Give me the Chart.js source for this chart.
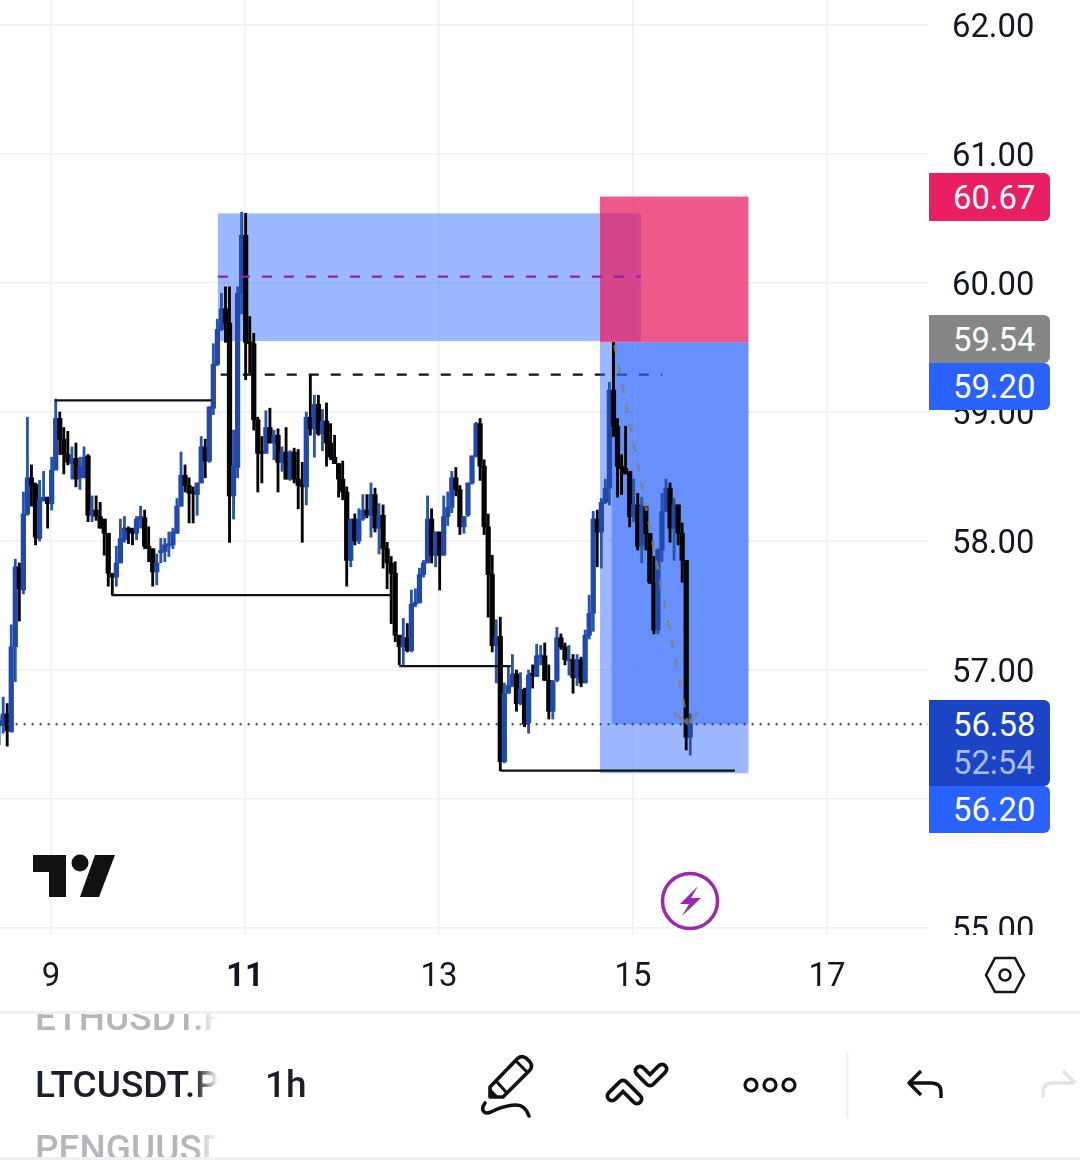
<!DOCTYPE html>
<html lang="en">
<head>
  <meta charset="UTF-8" />
  <title>LTCUSDT.P 1h</title>
  <script src="https://cdn.jsdelivr.net/npm/chart.js"></script>
  <style>
    * { margin: 0; padding: 0; box-sizing: border-box; }
    body { width: 1080px; height: 1160px; background: #fff; overflow: hidden; font-family: Roboto, sans-serif; }
    #wrap { position: relative; width: 1080px; height: 1160px; }
    canvas { position: absolute; left: 0; top: 0; }
    svg { position: absolute; left: 0; top: 0; }
    .badge {
      position: absolute; left: 929px; width: 121px; padding-left: 24px;
      color: #fff; font-size: 32.8px; line-height: 38px;
      border-radius: 0 6px 6px 0;
    }
    .sep { position: absolute; left: 0; width: 1080px; background: #f0f0f0; }
    .sym {
      position: absolute; left: 35px; width: 183px; overflow: hidden; white-space: nowrap;
      font-size: 37px; font-weight: 500;
      -webkit-mask-image: linear-gradient(to right, #000 88%, transparent 100%);
    }
  </style>
</head>
<body>
<div id="wrap">
  <canvas id="chart" width="1080" height="1160"></canvas>

  <div class="badge" style="top:173px;height:48px;line-height:50px;background:#e91e63">60.67</div>
  <div class="badge" style="top:315px;height:48px;line-height:50px;background:#868686">59.54</div>
  <div class="badge" style="top:363px;height:47px;line-height:49px;background:#2962ff">59.20</div>
  <div class="badge" style="top:700px;height:86px;padding-top:6px;background:#1b45c4">56.58<br><span style="color:#a9bdf2">52:54</span></div>
  <div class="badge" style="top:786px;height:47px;line-height:49px;background:#2962ff">56.20</div>

  <div class="sep" style="top:1011px;height:3px"></div>
  <div class="sep" style="top:1157px;height:3px"></div>

  <div class="sym" style="top:1014px;height:19px;color:#b4b6ba"><div style="margin-top:-17px;line-height:42px">ETHUSDT.P</div></div>
  <div class="sym" style="top:1063px;height:44px;line-height:44px;color:#1c1f28">LTCUSDT.P</div>
  <div class="sym" style="top:1133px;height:24px;color:#b4b6ba"><div style="line-height:42px;margin-top:-5px">PENGUUSDT.P</div></div>
  <div style="position:absolute;left:265px;top:1063px;font-size:37px;font-weight:500;line-height:44px;color:#1c1f28">1h</div>

  <svg width="1080" height="1160" viewBox="0 0 1080 1160" fill="none">
    <!-- tradingview mark -->
    <path d="M33 855H66V897H49V872H33Z" fill="#111"/>
    <circle cx="80" cy="863" r="8.5" fill="#111"/>
    <path d="M95 855H115L99 897H80Z" fill="#111"/>
    <!-- bolt -->
    <circle cx="690" cy="901" r="27.5" stroke="#9c27b0" stroke-width="3.5"/>
    <path d="M698 886L680 904H689L682 916L701 898H691Z" fill="#9c27b0"/>
    <!-- settings -->
    <path d="M995 958H1015L1024 975L1015 992H995L986 975Z" stroke="#131722" stroke-width="2.6" stroke-linejoin="round"/>
    <circle cx="1005" cy="975" r="5.5" stroke="#131722" stroke-width="2.6"/>
    <!-- pencil -->
    <path d="M490 1087L517 1059Q521 1055 526 1058L530 1062Q533 1066 530 1070L503 1097H490Z" stroke="#111" stroke-width="3.6" stroke-linejoin="round"/>
    <path d="M516 1061L528 1073M497 1082L506 1092" stroke="#111" stroke-width="3"/>
    <path d="M490 1097L490 1088L499 1097Z" fill="#111"/>
    <path d="M485 1103C480 1110 484 1115 491 1112C499 1108 508 1105 516 1105C524 1105 527 1110 529 1116" stroke="#111" stroke-width="3.6" stroke-linecap="round"/>
    <!-- trend tool -->
    <path d="M612 1096L623 1085L637 1099M640 1071L650 1081L662 1069" stroke="#111" stroke-width="13" stroke-linejoin="round" stroke-linecap="round"/>
    <path d="M612 1096L623 1085L637 1099M640 1071L650 1081L662 1069" stroke="#fff" stroke-width="5.4" stroke-linejoin="round" stroke-linecap="round"/>
    <!-- dots -->
    <circle cx="751" cy="1085" r="6" stroke="#111" stroke-width="3.2"/>
    <circle cx="770" cy="1085" r="6" stroke="#111" stroke-width="3.2"/>
    <circle cx="789" cy="1085" r="6" stroke="#111" stroke-width="3.2"/>
    <path d="M847.5 1052V1118" stroke="#efefef" stroke-width="2"/>
    <!-- undo / redo -->
    <path d="M941 1098V1092Q941 1083 931 1083H910M921 1071L909 1083L921 1095" stroke="#111" stroke-width="3.4" stroke-linejoin="round"/>
    <path d="M1043 1098V1092Q1043 1083 1053 1083H1074M1063 1071L1075 1083" stroke="#e4e4e4" stroke-width="3.4" stroke-linejoin="round"/>
  </svg>
</div>

<script>
  // hourly candles
  const firstCandleDay = 8.465;

  const opens = [
    56.57,56.57,56.66,56.52,57.18,57.80,57.62,58.21,58.49,58.44,
    58.02,58.31,58.34,58.29,58.55,58.95,58.79,58.67,58.60,58.64,
    58.49,58.49,58.66,58.20,58.24,58.19,58.17,58.06,57.75,57.72,
    57.83,58.01,58.10,58.09,58.06,58.16,58.18,57.96,57.94,57.76,
    57.91,57.92,57.96,57.97,58.06,58.27,58.51,58.43,58.38,58.36,
    58.45,58.73,58.62,59.03,59.37,59.64,59.80,59.69,58.35,58.57,
    59.92,60.37,59.54,59.53,58.94,58.69,58.68,58.88,58.76,58.82,
    58.61,58.69,58.48,58.69,58.48,58.43,58.42,58.96,58.87,59.06,
    58.83,58.93,58.76,58.65,58.60,58.48,58.38,57.85,58.17,58.00,
    58.17,58.24,58.20,58.36,58.10,58.20,57.94,57.83,57.75,57.27,
    57.18,57.25,57.15,57.51,57.52,57.74,57.83,58.17,57.89,58.07,
    57.89,58.19,58.26,58.49,58.40,58.11,58.20,58.45,58.66,58.91,
    58.58,58.11,57.74,57.19,57.26,56.29,56.82,56.88,56.97,56.74,
    56.85,56.59,56.97,56.95,57.10,57.11,56.92,56.68,56.92,57.25,
    57.18,57.07,57.08,56.94,57.08,56.90,57.27,57.44,58.17,58.07,
    58.30,58.41,59.17,58.89,58.58,58.56,58.54,58.19,58.28,57.96,
    58.27,58.06,57.68,57.31,57.93,58.23,58.41,58.10,58.28,58.06,
    57.85,56.48
  ];
  const highs = [
    56.64,56.79,56.74,57.35,57.86,57.83,58.38,58.96,58.59,58.45,
    58.47,58.54,58.34,58.65,59.10,59.00,58.88,58.85,58.73,58.76,
    58.65,58.73,58.67,58.35,58.35,58.30,58.17,58.06,57.75,57.96,
    58.17,58.19,58.11,58.10,58.19,58.27,58.24,58.11,57.94,57.90,
    58.02,58.02,58.07,58.10,58.33,58.69,58.59,58.49,58.42,58.45,
    58.81,58.79,59.04,59.53,59.72,59.92,59.97,59.97,58.86,59.97,
    60.55,60.54,59.74,59.61,58.96,58.81,59.01,59.03,58.86,58.87,
    58.73,58.88,58.70,58.72,58.71,58.61,59.00,59.29,59.13,59.13,
    59.02,59.07,58.91,58.82,58.60,58.62,58.42,58.17,58.21,58.25,
    58.36,58.36,58.45,58.41,58.29,58.28,57.99,57.88,57.84,57.27,
    57.40,57.36,57.62,57.63,57.79,57.85,58.35,58.25,58.07,58.07,
    58.35,58.38,58.54,58.57,58.43,58.19,58.45,58.66,58.92,58.95,
    58.63,58.21,57.89,57.39,57.41,56.90,57.03,57.12,57.00,56.98,
    56.86,57.00,57.04,57.20,57.19,57.21,57.04,56.92,57.33,57.28,
    57.21,57.19,57.12,57.12,57.10,57.31,57.58,58.23,58.24,58.33,
    58.48,59.23,59.54,58.95,58.67,58.89,58.54,58.48,58.37,58.34,
    58.27,58.06,57.88,57.94,58.37,58.48,58.45,58.33,58.28,58.14,
    57.85,56.66
  ];
  const lows = [
    56.42,56.51,56.41,56.52,56.91,57.38,57.59,58.20,58.27,57.97,
    58.00,58.31,58.10,58.24,58.55,58.67,58.52,58.59,58.48,58.42,
    58.40,58.49,58.15,58.15,58.16,58.10,57.89,57.65,57.58,57.65,
    57.83,57.99,57.98,57.97,58.01,58.10,57.94,57.84,57.65,57.66,
    57.83,57.84,57.88,57.94,58.06,58.27,58.38,58.14,58.14,58.20,
    58.45,58.49,58.61,58.98,59.36,59.63,59.54,57.99,58.17,58.49,
    59.76,59.25,59.30,58.86,58.38,58.45,58.68,58.76,58.63,58.38,
    58.54,58.48,58.47,58.45,58.25,57.99,58.28,58.82,58.65,58.82,
    58.70,58.58,58.63,58.60,58.34,58.32,57.65,57.80,57.97,57.98,
    58.16,58.18,58.03,58.07,57.90,57.79,57.63,57.36,57.22,57.04,
    57.04,57.14,57.14,57.49,57.52,57.72,57.83,57.83,57.80,57.62,
    57.89,58.12,58.22,58.35,58.05,58.06,58.19,58.44,58.65,58.47,
    58.05,57.41,57.14,56.90,56.22,56.28,56.82,56.87,56.68,56.73,
    56.56,56.51,56.86,56.95,57.04,56.92,56.62,56.62,56.91,57.16,
    57.04,56.96,56.82,56.88,56.87,56.90,57.24,57.30,57.80,57.79,
    58.29,58.28,58.81,58.34,58.36,58.52,58.11,58.15,57.93,57.83,
    57.93,57.67,57.28,57.28,57.84,58.23,57.99,57.85,57.97,57.68,
    56.38,56.34
  ];
  const closes = [
    56.61,56.66,56.53,57.18,57.80,57.63,58.21,58.49,58.43,58.03,
    58.32,58.34,58.29,58.55,58.95,58.79,58.67,58.61,58.64,58.48,
    58.58,58.65,58.20,58.24,58.19,58.10,58.06,57.75,57.72,57.83,
    58.02,58.10,58.08,58.06,58.17,58.19,57.96,57.94,57.76,57.83,
    57.92,57.97,57.98,58.07,58.27,58.51,58.43,58.37,58.37,58.45,
    58.73,58.62,59.04,59.37,59.64,59.80,59.69,58.35,58.58,59.92,
    60.37,59.54,59.53,58.94,58.68,58.68,58.88,58.76,58.82,58.61,
    58.69,58.48,58.69,58.48,58.43,58.42,58.96,58.87,59.06,58.83,
    58.93,58.76,58.65,58.60,58.48,58.38,57.85,58.17,58.00,58.17,
    58.24,58.20,58.36,58.10,58.20,57.94,57.83,57.75,57.27,57.18,
    57.25,57.15,57.51,57.52,57.74,57.83,58.17,57.89,58.07,57.89,
    58.19,58.26,58.49,58.40,58.11,58.19,58.45,58.66,58.91,58.58,
    58.11,57.74,57.19,57.26,56.29,56.82,56.88,56.97,56.74,56.85,
    56.58,56.96,56.96,57.11,57.11,56.92,56.68,56.91,57.25,57.18,
    57.08,57.08,56.94,57.08,56.90,57.27,57.44,58.17,58.07,58.30,
    58.41,59.17,58.89,58.58,58.56,58.52,58.19,58.28,57.96,58.27,
    58.06,57.68,57.31,57.93,58.23,58.41,58.10,58.28,58.06,57.85,
    56.48,56.58
  ];

  const yTicks = [62, 61, 60, 59, 58, 57, 56, 55];
  const xTicks = [9, 11, 13, 15, 17];
  const boldDay = 11;

  // drawings, as [day, price] pairs
  const highLevel = [[9.04, 59.09], [10.65, 59.09]];
  const lowLevel = [[9.63, 57.58], [12.52, 57.58]];
  const midLevel = [[12.59, 57.03], [13.74, 57.03]];
  const targetLevel = [[13.63, 56.22], [16.05, 56.22]];
  const dashedHigh = [[10.75, 59.29], [15.30, 59.29]];
  const purpleMid = [[10.72, 60.05], [15.08, 60.05]];
  const priceLine = [[8.47, 56.58], [18.04, 56.58]];
  const arrowShaft = [[14.81, 59.52], [15.56, 56.6]];
  const arrowHead = [[15.42, 56.67], [15.57, 56.58], [15.66, 56.67]];

  // boxes: day from, day to, price top, price bottom
  const zoneBox = [10.72, 15.08, 60.54, 59.55];
  const stopBox = [14.66, 16.19, 60.67, 59.54];
  const targetBox = [14.66, 16.19, 59.54, 56.20];
  const activeBox = [14.78, 16.19, 59.54, 56.58];

  const bull = "#2149ad";
  const bullWick = "#2b55a8";
  const bear = "#050505";

  const days = closes.map((c, i) => firstCandleDay + i / 24);
  const isUp = closes.map((c, i) => c >= opens[i]);

  function toPoints(pairs) {
    return pairs.map(p => ({ x: p[0], y: p[1] }));
  }

  function lineSet(pairs, color, width, dash, order) {
    return {
      type: "line",
      data: toPoints(pairs),
      borderColor: color,
      borderWidth: width,
      borderDash: dash,
      pointRadius: 0,
      tension: 0,
      order: order
    };
  }

  function fillBox(chart, box, color) {
    const { x, y } = chart.scales;
    const left = x.getPixelForValue(box[0]);
    const right = x.getPixelForValue(box[1]);
    const top = y.getPixelForValue(box[2]);
    const bottom = y.getPixelForValue(box[3]);
    chart.ctx.fillStyle = color;
    chart.ctx.fillRect(left, top, right - left, bottom - top);
  }

  // boxes sit under the candles but over the dashed level
  const boxesPlugin = {
    id: "boxes",
    beforeDatasetsDraw(chart) {
      // cuts the 55.00 label off like the price pane does
      chart.ctx.fillStyle = "#fff";
      chart.ctx.fillRect(928, 935, 152, 225);
    },
    beforeDatasetDraw(chart, args) {
      if (chart.data.datasets[args.index].label !== "wicks") return;
      fillBox(chart, zoneBox, "rgba(41,98,255,0.45)");
      fillBox(chart, stopBox, "rgba(233,30,99,0.74)");
      fillBox(chart, targetBox, "rgba(41,98,255,0.45)");
      fillBox(chart, activeBox, "rgba(41,98,255,0.45)");
    }
  };

  new Chart(document.getElementById("chart"), {
    type: "bar",
    data: {
      datasets: [
        lineSet(dashedHigh, "#111", 2.4, [10, 12], 20),
        {
          label: "wicks",
          data: days.map((d, i) => ({ x: d, y: [lows[i], highs[i]] })),
          backgroundColor: isUp.map(u => u ? bullWick : bear),
          barThickness: 2.2,
          grouped: false,
          order: 5
        },
        {
          label: "bodies",
          data: days.map((d, i) => ({ x: d, y: [opens[i], closes[i]] })),
          backgroundColor: isUp.map(u => u ? bull : bear),
          barThickness: 4.6,
          minBarLength: 2,
          grouped: false,
          order: 4
        },
        lineSet(highLevel, "#111", 2.2, [], 3),
        lineSet(lowLevel, "#111", 2.2, [], 3),
        lineSet(midLevel, "#111", 2.2, [], 3),
        lineSet(targetLevel, "#111", 2.2, [], 3),
        lineSet(purpleMid, "#8e24aa", 2.4, [10, 12], 3),
        lineSet(priceLine, "#2a3a66", 2, [2, 6], 3),
        lineSet(arrowShaft, "rgba(130,130,130,0.75)", 3, [9, 11], 3),
        lineSet(arrowHead, "rgba(130,130,130,0.75)", 3, [], 3)
      ]
    },
    options: {
      responsive: false,
      animation: false,
      layout: { padding: 0 },
      plugins: { legend: { display: false }, tooltip: { enabled: false } },
      scales: {
        x: {
          type: "linear",
          offset: false,
          min: 8.474,
          max: 18.041,
          afterBuildTicks(s) { s.ticks = xTicks.map(v => ({ value: v })); },
          afterFit(s) { s.height = 225; s.paddingLeft = 0; s.paddingRight = 0; },
          grid: { offset: false, color: "#eff1f4", lineWidth: 1.5, drawTicks: false },
          border: { display: false },
          ticks: {
            padding: 23,
            maxRotation: 0,
            autoSkip: false,
            color: "#131722",
            font: ctx => ({
              family: "Roboto",
              size: 32.8,
              weight: ctx.tick && ctx.tick.value === boldDay ? "bold" : "normal"
            }),
            callback: v => String(v)
          }
        },
        y: {
          position: "right",
          min: 54.946,
          max: 62.194,
          afterBuildTicks(s) { s.ticks = yTicks.map(v => ({ value: v })); },
          afterFit(s) { s.width = 152; s.paddingTop = 0; s.paddingBottom = 0; },
          grid: { color: "#eff1f4", lineWidth: 1.5, drawTicks: false },
          border: { display: false },
          ticks: {
            padding: 24,
            labelOffset: 4,
            color: "#131722",
            font: { family: "Roboto", size: 32.8 },
            callback: v => v.toFixed(2)
          }
        }
      }
    },
    plugins: [boxesPlugin]
  });
</script>
</body>
</html>
